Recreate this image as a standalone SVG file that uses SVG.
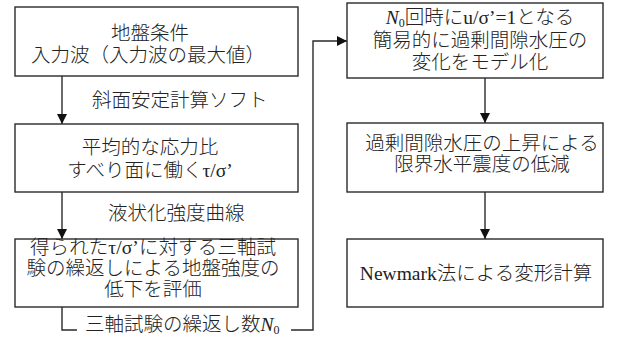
<svg xmlns="http://www.w3.org/2000/svg" width="624" height="339" viewBox="0 0 624 339">
<style>
.box{fill:#fff;stroke:#2a2a2a;stroke-width:1.4}
.ln{fill:none;stroke:#2a2a2a;stroke-width:1.4}
text{font-family:"Liberation Serif","Noto Sans CJK JP",serif;font-size:19.5px;fill:#222;font-weight:300}
.c{text-anchor:middle}
.it{font-style:italic}
.sub{font-size:12px}
</style>
<defs>
<marker id="ah" viewBox="0 0 10 10" refX="10" refY="5" markerWidth="10" markerHeight="10" markerUnits="userSpaceOnUse" orient="auto">
<path d="M0,0 L10,5 L0,10 Z" fill="#111"/>
</marker>
</defs>
<g id="connectors">
<line class="ln" x1="62" y1="76" x2="62" y2="124" marker-end="url(#ah)"/>
<line class="ln" x1="62" y1="192" x2="62" y2="239" marker-end="url(#ah)"/>
<polyline class="ln" points="62,307 62,330 77,330"/>
<polyline class="ln" points="291,330 313,330 313,41 347,41" marker-end="url(#ah)"/>
<line class="ln" x1="485" y1="78" x2="485" y2="123" marker-end="url(#ah)"/>
<line class="ln" x1="485" y1="192" x2="485" y2="239" marker-end="url(#ah)"/>
<text x="92" y="107">斜面安定計算ソフト</text>
<text x="108" y="220">液状化強度曲線</text>
<text x="85" y="331">三軸試験の繰返し数<tspan class="it">N</tspan><tspan class="sub" dy="3">0</tspan></text>
</g>
<g id="n1">
<rect class="box" x="15" y="7" width="283" height="69"/>
<text class="c" x="150" y="40">地盤条件</text>
<text class="c" x="148" y="62">入力波（入力波の最大値）</text>
</g>
<g id="n2">
<rect class="box" x="15" y="124" width="283" height="68"/>
<text class="c" x="150" y="154">平均的な応力比</text>
<text class="c" x="150" y="177">すべり面に働くτ/σ’</text>
</g>
<g id="n3">
<rect class="box" x="15" y="239" width="283" height="68"/>
<text class="c" x="153" y="254" textLength="246" lengthAdjust="spacing">得られたτ/σ’に対する三軸試</text>
<text class="c" x="153" y="275">験の繰返しによる地盤強度の</text>
<text class="c" x="153" y="296">低下を評価</text>
</g>
<g id="n4">
<rect class="box" x="347" y="3" width="256" height="75"/>
<text class="c" x="480" y="24"><tspan class="it">N</tspan><tspan class="sub" dy="3">0</tspan><tspan dy="-3">回時にu/σ’=1となる</tspan></text>
<text class="c" x="480" y="47">簡易的に過剰間隙水圧の</text>
<text class="c" x="480" y="69">変化をモデル化</text>
</g>
<g id="n5">
<rect class="box" x="347" y="123" width="256" height="69"/>
<text class="c" x="482" y="150">過剰間隙水圧の上昇による</text>
<text class="c" x="482" y="171">限界水平震度の低減</text>
</g>
<g id="n6">
<rect class="box" x="347" y="239" width="256" height="68"/>
<text class="c" x="476" y="280">Newmark法による変形計算</text>
</g>
</svg>
